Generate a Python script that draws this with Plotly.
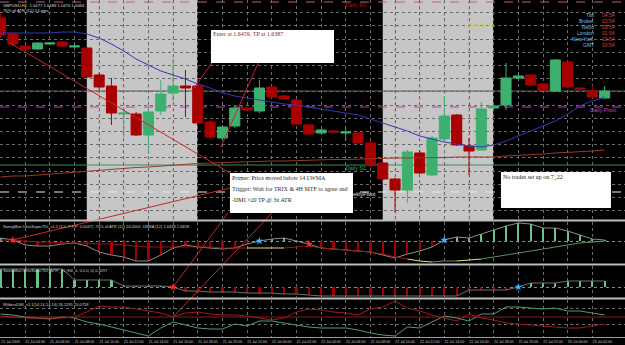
import plotly.graph_objects as go

# ---------------- data ----------------
bars = list(range(50))
tick_bars = list(range(0, 50, 2))
tick_labels = ["21 Jul 2009", "21 Jul 04:00", "21 Jul 06:00", "21 Jul 08:00", "21 Jul 10:00",
               "21 Jul 12:00", "21 Jul 14:00", "21 Jul 16:00", "21 Jul 18:00", "21 Jul 20:00",
               "21 Jul 22:00", "22 Jul 00:00", "22 Jul 02:00", "22 Jul 04:00", "22 Jul 06:00",
               "22 Jul 08:00", "22 Jul 10:00", "22 Jul 12:00", "22 Jul 14:00", "22 Jul 16:00",
               "22 Jul 18:00", "22 Jul 20:00", "22 Jul 22:00", "23 Jul 00:00", "23 Jul 02:00"]

open_ = [1.6557, 1.6541, 1.6529, 1.6526, 1.6531, 1.6533, 1.6528, 1.6527, 1.6500, 1.6489,
         1.6461, 1.6461, 1.6440, 1.6464, 1.6482, 1.6489, 1.6489, 1.6453, 1.6437, 1.6449,
         1.6467, 1.6464, 1.6488, 1.6479, 1.6475, 1.6450, 1.6442, 1.6444, 1.6442, 1.6442,
         1.6432, 1.6412, 1.6396, 1.6385, 1.6422, 1.6400, 1.6436, 1.6460, 1.6429, 1.6425,
         1.6467, 1.6470, 1.6497, 1.6500, 1.6491, 1.6484, 1.6513, 1.6487, 1.6484, 1.6477]
high = [1.6561, 1.6543, 1.6530, 1.6533, 1.6533, 1.6534, 1.6531, 1.6528, 1.6502, 1.6497,
        1.6468, 1.6463, 1.6468, 1.6495, 1.6516, 1.6505, 1.6491, 1.6455, 1.6450, 1.6469,
        1.6468, 1.6495, 1.6489, 1.6480, 1.6476, 1.6451, 1.6446, 1.6445, 1.6447, 1.6443,
        1.6435, 1.6413, 1.6397, 1.6425, 1.6425, 1.6439, 1.6479, 1.6461, 1.6437, 1.6473,
        1.6470, 1.6512, 1.6501, 1.6501, 1.6492, 1.6516, 1.6514, 1.6488, 1.6490, 1.6489]
low = [1.6537, 1.6529, 1.6525, 1.6525, 1.6530, 1.6528, 1.6527, 1.6497, 1.6485, 1.6450,
       1.6438, 1.6439, 1.6423, 1.6460, 1.6474, 1.6458, 1.6451, 1.6436, 1.6435, 1.6447,
       1.6464, 1.6462, 1.6477, 1.6475, 1.6450, 1.6440, 1.6441, 1.6442, 1.6435, 1.6431,
       1.6407, 1.6395, 1.6363, 1.6372, 1.6401, 1.6399, 1.6435, 1.6429, 1.6400, 1.6424,
       1.6466, 1.6465, 1.6496, 1.6489, 1.6484, 1.6483, 1.6487, 1.6485, 1.6477, 1.6476]
close = [1.6540, 1.6531, 1.6526, 1.6532, 1.6532, 1.6529, 1.6529, 1.6498, 1.6488, 1.6462,
         1.6462, 1.6440, 1.6463, 1.6481, 1.6489, 1.6487, 1.6452, 1.6438, 1.6448, 1.6467,
         1.6465, 1.6487, 1.6478, 1.6476, 1.6451, 1.6441, 1.6445, 1.6443, 1.6443, 1.6432,
         1.6411, 1.6396, 1.6385, 1.6423, 1.6402, 1.6437, 1.6459, 1.6430, 1.6424, 1.6466,
         1.6469, 1.6497, 1.6499, 1.6490, 1.6485, 1.6515, 1.6488, 1.6486, 1.6478, 1.6484]

lwma_blue = [1.6542, 1.6542, 1.6542, 1.6542, 1.6542, 1.6543, 1.6543, 1.6541, 1.6537, 1.6531,
             1.6524, 1.6516, 1.6510, 1.6504, 1.6500, 1.6496, 1.6491, 1.6487, 1.6482, 1.6479,
             1.6477, 1.6475, 1.6473, 1.6471, 1.6470, 1.6468, 1.6466, 1.6464, 1.6462, 1.6460,
             1.6456, 1.6452, 1.6448, 1.6444, 1.6439, 1.6436, 1.6433, 1.6431, 1.6429, 1.6428,
             1.6430, 1.6434, 1.6439, 1.6444, 1.6449, 1.6454, 1.6461, 1.6469, 1.6474, 1.6478]
ma_brown = [1.6398, 1.6399, 1.6399, 1.6400, 1.6401, 1.6402, 1.6403, 1.6404, 1.6405, 1.6406,
            1.6407, 1.64075, 1.6408, 1.6409, 1.6410, 1.6411, 1.64115, 1.6412, 1.64125, 1.6413,
            1.6413, 1.64135, 1.6414, 1.6414, 1.64145, 1.6415, 1.6415, 1.64155, 1.64155, 1.6416,
            1.6416, 1.64165, 1.6417, 1.6417, 1.6417, 1.64175, 1.64175, 1.6418, 1.6418, 1.6418,
            1.6418, 1.6419, 1.64195, 1.6420, 1.6421, 1.6422, 1.64225, 1.6423, 1.6424, 1.6425]

# price levels
daily_r1 = 1.6573
bid_price = 1.6484
daily_pivot = 1.6468
daily_s1 = 1.6410
weekly_pivot = 1.6383

# session shading (bar index ranges)
sessions = [(7.0, 15.95), (31.0, 39.95)]

# UltraSuper TDI (sub window 1)
tdi_hist = [3, 1, -4, -5, -5, -3, -2, -5, -11, -14, -16, -20, -20, -14, -7, -4, -6, -7, -8, -7,
            -3, 0, 2, 3, 0, -3, -7, -8, -9, -10, -11, -14, -17, -13, -10, -6, 1, 4, 3, 7,
            11, 15, 18, 17, 13, 13, 10, 6, 2, 1]
tdi_slow = [1, 1, 0, -1, -1, -2, -2, -2, -3, -3, -4, -5, -6, -6, -6, -6, -6, -6, -7, -7,
            -7, -7, -7, -7, -6, -5, -7, -8, -9, -10, -11, -13, -16, -18, -20, -21, -20, -20, -19, -18,
            -16, -14, -12, -10, -8, -6, -4, -2, -1, 0]
tdi_slow_state = (["dn"] * 20 + ["flat"] * 3 + ["dn"] * 10 + ["flat"] * 2 + ["up"] * 2
                  + ["flat"] * 2 + ["up"] * 10)
tdi_buy = [21, 36]
tdi_sell = [1, 25]

# UltraSuper TDI MTF (sub window 2)
mtf_hist = [18, 18, 18, 18, 18, 18, 7, 7, 7, 7, 1, 1, 1, 1, 0, -4, -4, -5, -5, -5,
            -6, -6, -6, -7, -7, -8, -9, -9, -9, -9, -9, -9, -9, -9, -9, -9, -9, -9, -3, -3,
            -3, -3, 0, 4, 4, 4, 6, 6, 6, 6]
mtf_buy = [42]
mtf_sell = [14]

# Wilders DMI (sub window 3)
dmi_plus = [23, 22, 20, 19, 18, 20, 19, 15, 13, 10, 7, 4, 1, 9, 15, 12, 9, 8, 8, 13,
            11, 16, 16, 14, 12, 10, 9, 9, 9, 7, 4, 2, 1, 10, 9, 15, 21, 19, 16, 23,
            23, 30, 30, 29, 28, 29, 26, 26, 24, 22]
dmi_minus = [21, 20, 19, 19, 19, 19, 20, 25, 31, 30, 30, 28, 26, 24, 20, 24, 25, 23, 22, 22,
             21, 19, 17, 19, 25, 28, 27, 25, 24, 22, 28, 30, 36, 29, 26, 22, 19, 16, 23, 19,
             17, 14, 13, 12, 11, 10, 9, 9, 11, 13]
dmi_level = 20

# drawn trend lines: (bar, axis, value) -> (bar, axis, value)
trend_lines = [
    (0.77, "y", 1.6532, 18.61, "y", 1.6402),
    (1.0, "y2", 1.0, 18.61, "y", 1.6387),
    (15.7, "y", 1.6487, 17.15, "y", 1.6512),
    (20.9, "y", 1.6512, 17.88, "y", 1.6428),
    (14.0, "y3", 0.0, 18.45, "y", 1.6362),
    (14.0, "y4", 20.0, 22.02, "y", 1.6362),
]

# note boxes: (x0, x1, y0, y1) in bar / price
note_boxes = [(17.07, 27.05, 1.6512, 1.6545), (18.61, 28.59, 1.6362, 1.6402), (40.59, 49.51, 1.6367, 1.6403)]

clock_names = ["Tbil", "Broker", "Tokyo", "London", "New York", "GMT"]
clock_times = ["04:54", "03:54", "09:54", "01:54", "20:54", "00:54"]

# ---------------- layout geometry ----------------
W, H = 625, 345
PLOT_H = 337


def yp(px):
    return 1 - px / PLOT_H


DOM = {"y": (yp(219), 1.0), "y2": (yp(263), yp(222)), "y3": (yp(297), yp(266)), "y4": (0.0, yp(300))}
RNG = {"y": (1.6356, 1.6575), "y2": (-22, 19), "y3": (-10, 21), "y4": (0, 37)}


def to_paper(ax, v):
    d0, d1 = DOM[ax]
    r0, r1 = RNG[ax]
    return d0 + (v - r0) / (r1 - r0) * (d1 - d0)


RED = "#A80000"
GREEN = "#3DB070"
fig = go.Figure()

# candles
fig.add_trace(go.Candlestick(
    x=bars, open=open_, high=high, low=low, close=close, xaxis="x", yaxis="y",
    increasing=dict(line=dict(color=GREEN, width=1), fillcolor=GREEN),
    decreasing=dict(line=dict(color=RED, width=1), fillcolor=RED),
    whiskerwidth=0, hoverinfo="skip"))

fig.add_trace(go.Scatter(x=bars, y=ma_brown, mode="lines", line=dict(color="#9A3A28", width=1),
                         xaxis="x", yaxis="y", hoverinfo="skip"))
fig.add_trace(go.Scatter(x=bars, y=lwma_blue, mode="lines", line=dict(color="#3438B8", width=1),
                         xaxis="x", yaxis="y", hoverinfo="skip"))

# level labels (under the note boxes)
lvl_labels = [
    (28.83, daily_r1 - 0.0004, "Daily R1", "#B01818", "middle center"),
    (38.97, 1.6549, "Weekly R1", "#CFCF2A", "middle center"),
    (28.83, daily_s1 - 0.0004, "Daily S1", "#34A060", "middle center"),
    (30.4, weekly_pivot - 0.0003, "WeeklyPivot", "#E0E0E0", "middle left"),
    (48.86, daily_pivot - 0.0004, "Daily Pivot", "#C840C8", "middle center"),
]
for lx, ly, lt, lc, pos in lvl_labels:
    fig.add_trace(go.Scatter(x=[lx], y=[ly], mode="text", text=[lt], textposition=pos,
                             textfont=dict(size=5.5, color=lc, family="Liberation Sans"),
                             xaxis="x", yaxis="y", hoverinfo="skip"))

# ---- sub window 1: TDI ----
fig.add_trace(go.Bar(x=bars, y=tdi_hist, width=0.18, xaxis="x", yaxis="y2",
                     marker=dict(color=["#6CC08C" if v > 0 else "#A00000" for v in tdi_hist], line=dict(width=0)),
                     hoverinfo="skip"))
fig.add_trace(go.Scatter(x=bars, y=tdi_hist, mode="lines", line=dict(color="#8C8C8C", width=1),
                         xaxis="x", yaxis="y2", hoverinfo="skip"))
state_color = {"dn": "#A01010", "flat": "#E6E080", "up": "#5E8F5E"}
i = 0
while i < len(tdi_slow_state):
    j = i
    while j + 1 < len(tdi_slow_state) and tdi_slow_state[j + 1] == tdi_slow_state[i]:
        j += 1
    fig.add_trace(go.Scatter(x=bars[i:j + 2], y=tdi_slow[i:j + 2], mode="lines",
                             line=dict(color=state_color[tdi_slow_state[i]], width=1),
                             xaxis="x", yaxis="y2", hoverinfo="skip"))
    i = j + 1
fig.add_trace(go.Scatter(x=tdi_sell, y=[tdi_hist[k] for k in tdi_sell], mode="markers",
                         marker=dict(symbol="star", size=6, color="#FF2A2A"), xaxis="x", yaxis="y2", hoverinfo="skip"))
fig.add_trace(go.Scatter(x=tdi_buy, y=[tdi_hist[k] for k in tdi_buy], mode="markers",
                         marker=dict(symbol="star", size=6, color="#3DB4FF"), xaxis="x", yaxis="y2", hoverinfo="skip"))

# ---- sub window 2: TDI MTF ----
fig.add_trace(go.Bar(x=bars, y=mtf_hist, width=0.18, xaxis="x", yaxis="y3",
                     marker=dict(color=["#6CC08C" if v > 0 else "#A00000" for v in mtf_hist], line=dict(width=0)),
                     hoverinfo="skip"))
fig.add_trace(go.Scatter(x=bars, y=mtf_hist, mode="lines", line=dict(color="#707070", width=1),
                         xaxis="x", yaxis="y3", hoverinfo="skip"))
fig.add_trace(go.Scatter(x=mtf_sell, y=[mtf_hist[k] for k in mtf_sell], mode="markers",
                         marker=dict(symbol="star", size=6, color="#FF2A2A"), xaxis="x", yaxis="y3", hoverinfo="skip"))
fig.add_trace(go.Scatter(x=mtf_buy, y=[mtf_hist[k] for k in mtf_buy], mode="markers",
                         marker=dict(symbol="star", size=6, color="#3DB4FF"), xaxis="x", yaxis="y3", hoverinfo="skip"))

# ---- sub window 3: DMI ----
fig.add_trace(go.Scatter(x=bars, y=dmi_plus, mode="lines", line=dict(color="#4E9E70", width=1),
                         xaxis="x", yaxis="y4", hoverinfo="skip"))
fig.add_trace(go.Scatter(x=bars, y=dmi_minus, mode="lines", line=dict(color="#A01C1C", width=1),
                         xaxis="x", yaxis="y4", hoverinfo="skip"))

# ---------------- shapes ----------------
shapes = []
for s0, s1 in sessions:
    shapes.append(dict(type="rect", xref="x", yref="paper", x0=s0, x1=s1, y0=yp(220), y1=1,
                       fillcolor="#C6C6C6", line=dict(width=0), layer="below"))
    k = int(s0) + 1 if int(s0) % 2 else int(s0) + 2
    while k < s1:
        shapes.append(dict(type="line", xref="x", yref="paper", x0=k, x1=k, y0=yp(220), y1=1,
                           line=dict(color="#D88888", width=1, dash="dot"), layer="between"))
        k += 2

levels = [(daily_r1, "#C06070", "dash"), (bid_price, "#5A5A5A", "solid"),
          (daily_pivot, "#B040B0", "dash"), (daily_s1, "#3E8A55", "solid"),
          (weekly_pivot, "#E8E8E8", "dash")]
for lv, lc, ld in levels:
    shapes.append(dict(type="line", xref="paper", yref="y", x0=0, x1=1, y0=lv, y1=lv,
                       line=dict(color=lc, width=1, dash=ld), layer="between"))

shapes.append(dict(type="line", xref="paper", yref="y4", x0=0, x1=1, y0=dmi_level, y1=dmi_level,
                   line=dict(color="#8E1A1A", width=1), layer="between"))

for bx0, bax0, bv0, bx1, bax1, bv1 in trend_lines:
    shapes.append(dict(type="line", xref="x", yref="paper", x0=bx0, x1=bx1,
                       y0=to_paper(bax0, bv0), y1=to_paper(bax1, bv1),
                       line=dict(color="#C82828", width=1), layer="above"))

for nx0, nx1, ny0, ny1 in note_boxes:
    shapes.append(dict(type="rect", xref="x", yref="y", x0=nx0, x1=nx1, y0=ny0, y1=ny1,
                       fillcolor="white", line=dict(width=0), layer="above"))

for sep in (220.5, 264.5, 298.5):
    shapes.append(dict(type="line", xref="paper", yref="paper", x0=0, x1=1, y0=yp(sep), y1=yp(sep),
                       line=dict(color="#BDBDBD", width=2), layer="above"))

# ---------------- annotations ----------------
SMALL = "Liberation Sans Narrow, Arial Narrow, Liberation Sans"
ann = []


def txt(x, y, t, size, color, family=SMALL, xanchor="left", yanchor="top", xref="paper", yref="paper"):
    ann.append(dict(x=x, y=y, xref=xref, yref=yref, text=t, showarrow=False, xanchor=xanchor,
                    yanchor=yanchor, font=dict(size=size, color=color, family=family), borderpad=0))


txt(2 / W, yp(2), "GBPUSD,H1  1.6477 1.6489 1.6476 1.6484", 4.2, "#D8D8D8")
txt(2 / W, yp(7), "70% of ATR (12) 24 pips", 4.2, "#D8D8D8")
txt(2 / W, yp(222.5), "SwingMan UltraSuperTDI_v1.5 (1,0, P,P,P; 0.0047)  70% of ATR (12) 24.0000  LWMA (12) 1.6458 1.6458",
    4, "#D0D0D0")
txt(2 / W, yp(266.5), "SwingMan UltraSuperTDI_MTF_v1 (H4, 4, 0,0,0, 0) 0.3297", 4, "#D0D0D0")
txt(2 / W, yp(300.5), "WildersDMI_v1.1(14,14,14,14) 26.1295 20.0758", 4, "#D0D0D0")

for r, (nm, tm) in enumerate(zip(clock_names, clock_times)):
    cy = yp(15 + r * 6)
    txt(595 / W, cy, nm, 5, "#78C0E0", family="Liberation Sans", xanchor="right", yanchor="middle")
    txt(601 / W, cy, tm, 5, "#C84848", family="Liberation Sans", xanchor="left", yanchor="middle")

SERIF = "Liberation Serif"
txt(17.15, 1.6541, "Enter at 1.6459, TP at 1.6387", 6, "#7A1F30", family=SERIF, yanchor="middle", xref="x", yref="y")
txt(18.69, 1.6397, "Primer: Price moved below 14 LWMA", 6, "#2A2A2A", family=SERIF, yanchor="middle", xref="x", yref="y")
txt(18.69, 1.6386, "Trigger: Wait for TRIX &amp; 4H MTF to agree and", 6, "#2A2A2A", family=SERIF, yanchor="middle", xref="x", yref="y")
txt(18.69, 1.6375, "-DMI &gt;20 TP @ 3x ATR", 6, "#2A2A2A", family=SERIF, yanchor="middle", xref="x", yref="y")
txt(40.67, 1.6398, "No trades set up on 7_22", 6, "#222222", family=SERIF, yanchor="middle", xref="x", yref="y")

# ---------------- axes ----------------
GRID = "#6A6A6A"
fig.update_layout(
    width=W, height=H, margin=dict(l=0, r=0, t=0, b=8),
    paper_bgcolor="black", plot_bgcolor="black", showlegend=False,
    boxgap=0.18, boxgroupgap=0, bargap=0,
    shapes=shapes, annotations=ann, hovermode=False,
    xaxis=dict(domain=[0, 1], range=[-0.04, 50.65], anchor="y4", tickmode="array",
               tickvals=tick_bars, ticktext=tick_labels, showgrid=True, gridcolor=GRID, griddash="dot",
               gridwidth=1, zeroline=False, showline=True, linecolor="#9A9A9A", linewidth=1,
               ticks="", ticklabelshift=10, ticklabelstandoff=1,
               tickfont=dict(size=3.6, color="#C8C8C8", family="Liberation Sans"),
               rangeslider=dict(visible=False), fixedrange=True),
    yaxis=dict(domain=list(DOM["y"]), range=list(RNG["y"]), anchor="x", showticklabels=False,
               tickmode="linear", tick0=1.65623, dtick=0.00132, showgrid=True, gridcolor=GRID,
               griddash="dot", zeroline=False, ticks=""),
    yaxis2=dict(domain=list(DOM["y2"]), range=list(RNG["y2"]), anchor="x", showticklabels=False,
                tickvals=[0], showgrid=True, gridcolor="#8A8A8A", griddash="dot", zeroline=False, ticks=""),
    yaxis3=dict(domain=list(DOM["y3"]), range=list(RNG["y3"]), anchor="x", showticklabels=False,
                tickvals=[0], showgrid=True, gridcolor="#8A8A8A", griddash="dot", zeroline=False, ticks=""),
    yaxis4=dict(domain=list(DOM["y4"]), range=list(RNG["y4"]), anchor="x", showticklabels=False,
                tickvals=[13, 29], showgrid=True, gridcolor=GRID, griddash="dot", zeroline=False, ticks=""),
)

fig.write_html("out.html")
